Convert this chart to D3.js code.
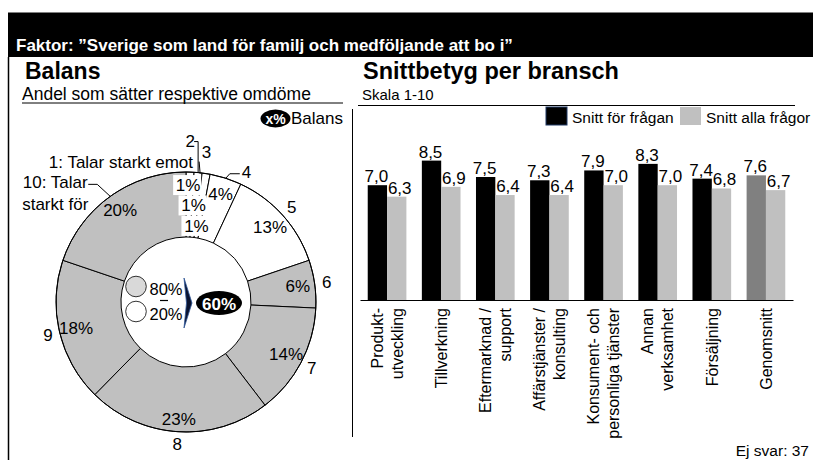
<!DOCTYPE html>
<html>
<head>
<meta charset="utf-8">
<script src="https://cdn.jsdelivr.net/npm/d3@7"></script>
<style>
  body { margin: 0; background: #fff; }
  svg { display: block; font-family: "Liberation Sans", Arial, sans-serif; }
</style>
</head>
<body>
<div id="chart"></div>
<script>
// ---- data ----
const titleText = 'Faktor: ”Sverige som land för familj och medföljande att bo i”';
const grades = ['1', '2', '3', '4', '5', '6', '7', '8', '9', '10'];
const gradeLabels = [['1: Talar starkt emot'], ['2'], ['3'], ['4'], ['5'], ['6'], ['7'], ['8'], ['9'], ['10: Talar', 'starkt för']];
const shares = [1, 1, 1, 4, 13, 6, 14, 23, 18, 20];
const balanceParts = [80, 20];   // andel 6-10, andel 1-5
const balanceValue = 60;

const branches = [['Produkt-', 'utveckling'], ['Tillverkning'], ['Eftermarknad /', 'support'], ['Affärstjänster /', 'konsulting'],
  ['Konsument- och', 'personliga tjänster'], ['Annan', 'verksamhet'], ['Försäljning'], ['Genomsnitt']];
const snittFragan = [7.0, 8.5, 7.5, 7.3, 7.9, 8.3, 7.4, 7.6];
const snittAlla = [6.3, 6.9, 6.4, 6.4, 7.0, 7.0, 6.8, 6.7];
const seriesNames = ['Snitt för frågan', 'Snitt alla frågor'];
const noAnswer = 37;

const width = 813, height = 460;
const gray = '#c0c0c0';

const svg = d3.select('#chart').append('svg')
  .attr('width', width).attr('height', height);

// header band
svg.append('rect').attr('x', 8).attr('y', 12.5).attr('width', width - 8).attr('height', 44.5).attr('fill', '#000');
svg.append('text').attr('x', 16).attr('y', 51).attr('fill', '#fff')
  .attr('font-size', 17).attr('font-weight', 'bold').text(titleText);

// frame lines
svg.append('line').attr('x1', 8.5).attr('x2', 8.5).attr('y1', 57).attr('y2', height).attr('stroke', '#000').attr('stroke-width', 1.5);
svg.append('line').attr('x1', 352.5).attr('x2', 352.5).attr('y1', 109).attr('y2', 437).attr('stroke', '#000');

// headings
svg.append('text').attr('x', 25).attr('y', 78.5).attr('font-size', 23).attr('font-weight', 'bold').text('Balans');
svg.append('text').attr('x', 22).attr('y', 100).attr('font-size', 17.5).text('Andel som sätter respektive omdöme');
svg.append('line').attr('x1', 22).attr('x2', 343).attr('y1', 103).attr('y2', 103).attr('stroke', '#000');

svg.append('text').attr('x', 363).attr('y', 78.5).attr('font-size', 23.5).attr('font-weight', 'bold').text('Snittbetyg per bransch');
svg.append('text').attr('x', 362).attr('y', 99.5).attr('font-size', 15).text('Skala 1-10');
svg.append('line').attr('x1', 358).attr('x2', 795).attr('y1', 105.5).attr('y2', 105.5).attr('stroke', '#000');

// balance legend
svg.append('ellipse').attr('cx', 275.5).attr('cy', 118.5).attr('rx', 15).attr('ry', 9).attr('fill', '#000');
svg.append('text').attr('x', 275.5).attr('y', 123.5).attr('text-anchor', 'middle').attr('fill', '#fff')
  .attr('font-size', 14).attr('font-weight', 'bold').text('x%');
svg.append('text').attr('x', 291).attr('y', 124).attr('font-size', 17).text('Balans');

// ---- donut ----
const cx = 186, cy = 302, R = 130, r0 = 65;
const pie = d3.pie().sort(null).value(d => d);
const arcs = pie(shares);
const arc = d3.arc().innerRadius(r0).outerRadius(R);
const fillFor = i => +grades[i] >= 6 ? gray : '#fff';
const mid = d => (d.startAngle + d.endAngle) / 2;
const polar = (a, r) => [r * Math.sin(a), -r * Math.cos(a)];

const donut = svg.append('g').attr('transform', `translate(${cx},${cy})`);
donut.selectAll('path').data(arcs).join('path')
  .attr('d', arc)
  .attr('fill', (d, i) => fillFor(i))
  .attr('stroke', '#000').attr('stroke-width', 1);

// percent labels: tiny slices stacked inwards
let tinyIdx = 0;
const pctPos = arcs.map(d => {
  if (d.value < 2) {
    const r = 117 - 20 * tinyIdx++;
    const p = polar(mid(d), r);
    return [p[0] - 1.5, p[1]];
  }
  return polar(mid(d), d.value > 20 ? 117 : 113);
});
const pctG = donut.append('g').attr('font-size', 17).attr('text-anchor', 'middle');
pctG.selectAll('rect').data(arcs.filter(d => d.value < 2)).join('rect')
  .attr('x', (d) => pctPos[d.index][0] - 15)
  .attr('y', (d) => pctPos[d.index][1] - 10)
  .attr('width', 28).attr('height', 20).attr('fill', '#fff');
pctG.selectAll('text').data(arcs).join('text')
  .attr('x', d => pctPos[d.index][0])
  .attr('y', d => pctPos[d.index][1])
  .attr('dy', '0.35em')
  .text(d => d.value + '%');
// redraw outer rim over label backgrounds
donut.append('circle').attr('r', R).attr('fill', 'none').attr('stroke', '#000');

// grade labels outside
const outer = donut.append('g').attr('font-size', 17);
const lead = (pts) => outer.append('path').attr('d', d3.line()(pts)).attr('fill', 'none').attr('stroke', '#000');
arcs.forEach((d, i) => {
  const a = mid(d);
  const p = polar(a, R);
  const lines = gradeLabels[i];
  if (i >= 4 && i <= 8) {
    const q = polar(a, 142);
    outer.append('text').attr('x', q[0]).attr('y', q[1]).attr('dy', '0.35em')
      .attr('text-anchor', 'middle').text(lines[0]);
  } else if (i === 0) {
    outer.append('text').attr('x', p[0] + 3).attr('y', p[1] - 4).attr('text-anchor', 'end').text(lines[0]);
  } else if (i === 1) {
    lead([p, [p[0], p[1] - 31], [p[0] - 4, p[1] - 31]]);
    outer.append('text').attr('x', p[0] - 8).attr('y', p[1] - 26).attr('text-anchor', 'middle').text(lines[0]);
  } else if (i === 2) {
    lead([[p[0] - 6, p[1]], [p[0] - 7, p[1] - 12]]);
    outer.append('text').attr('x', p[0] - 4.5).attr('y', p[1] - 15.5).text(lines[0]);
  } else if (i === 3) {
    lead([p, [p[0] + 4, p[1] - 4.5], [p[0] + 14, p[1] - 4.5]]);
    outer.append('text').attr('x', p[0] + 16).attr('y', p[1]).text(lines[0]);
  } else {
    lead([p, [p[0] - 13, p[1] - 12], [p[0] - 22, p[1] - 12]]);
    const t = outer.append('text').attr('text-anchor', 'middle');
    lines.forEach((s, k) => t.append('tspan').attr('x', p[0] - 55).attr('y', p[1] - 8 + k * 21.7).text(s));
  }
});

// centre: balance
const ctr = donut.append('g');
const partFill = ['#d9d9d9', '#fff'];
balanceParts.forEach((v, k) => {
  ctr.append('circle').attr('cx', -50).attr('cy', -15.5 + k * 25).attr('r', 10.3)
    .attr('fill', partFill[k]).attr('stroke', '#000').attr('stroke-width', 0.8);
  ctr.append('text').attr('x', -36.5).attr('y', -7 + k * 24.5).attr('font-size', 16.5).text(v + '%');
});
ctr.append('line').attr('x1', -26).attr('x2', -18).attr('y1', -1.5).attr('y2', -1.5).attr('stroke', '#000').attr('stroke-width', 1.2);
ctr.append('path').attr('d', 'M-2,-24L6,1L-2,26L0.5,1Z').attr('fill', '#0b1430').attr('stroke', '#2f5597').attr('stroke-width', 0.8);
ctr.append('ellipse').attr('cx', 33).attr('cy', 1).attr('rx', 23).attr('ry', 12).attr('fill', '#000');
ctr.append('text').attr('x', 33).attr('y', 7.5).attr('text-anchor', 'middle').attr('fill', '#fff')
  .attr('font-size', 17).attr('font-weight', 'bold').text(balanceValue + '%');

// ---- bars ----
const x = d3.scaleBand().domain(d3.range(branches.length)).range([360, 793]);
const sub = d3.scaleBand().domain([0, 1]).range([0, x.bandwidth()]).paddingOuter(0.4);
const y = d3.scaleLinear().domain([0, 10]).range([300, 136]);
const fmt = v => d3.format('.1f')(v).replace('.', ',');
const barFill = (k, i) => k === 1 ? gray : (branches[i][0] === 'Genomsnitt' ? '#808080' : '#000');

const series = [snittFragan, snittAlla];
series.forEach((vals, k) => {
  const g = svg.append('g');
  g.selectAll('rect').data(vals).join('rect')
    .attr('x', (d, i) => x(i) + sub(k))
    .attr('y', d => y(d))
    .attr('width', sub.bandwidth())
    .attr('height', d => y(0) - y(d))
    .attr('fill', (d, i) => barFill(k, i));
  g.selectAll('text').data(vals).join('text')
    .attr('x', (d, i) => x(i) + sub(k) + sub.bandwidth() / 2 + (k === 0 ? -1 : 3))
    .attr('y', d => y(d) - 3)
    .attr('text-anchor', 'middle').attr('font-size', 17)
    .text(fmt);
});

const xAxis = svg.append('g').attr('transform', `translate(0,${y(0)})`)
  .call(d3.axisBottom(x).tickSize(0).tickSizeOuter(0).tickFormat(''));
xAxis.select('.domain').attr('stroke', '#000');
xAxis.selectAll('.tick').each(function (i) {
  const lines = branches[i];
  const t = d3.select(this).append('text')
    .attr('transform', 'rotate(-90)')
    .attr('text-anchor', 'end').attr('fill', '#000')
    .attr('font-size', 16).attr('font-family', '"Liberation Sans", Arial, sans-serif');
  lines.forEach((s, k) => t.append('tspan').attr('x', -8)
    .attr('y', 5.7 + (k - (lines.length - 1) / 2) * 20).text(s));
});

// legend
const legX = [546, 680];
seriesNames.forEach((s, k) => {
  svg.append('rect').attr('x', legX[k]).attr('y', 107).attr('width', 21).attr('height', 18)
    .attr('fill', k === 0 ? '#000' : gray).attr('stroke', k === 0 ? '#1f3864' : 'none');
  svg.append('text').attr('x', legX[k] + 26).attr('y', 122.5).attr('font-size', 15.5).text(s);
});

svg.append('text').attr('x', 809).attr('y', 456).attr('text-anchor', 'end').attr('font-size', 15.5)
  .text('Ej svar: ' + noAnswer);
</script>
</body>
</html>
